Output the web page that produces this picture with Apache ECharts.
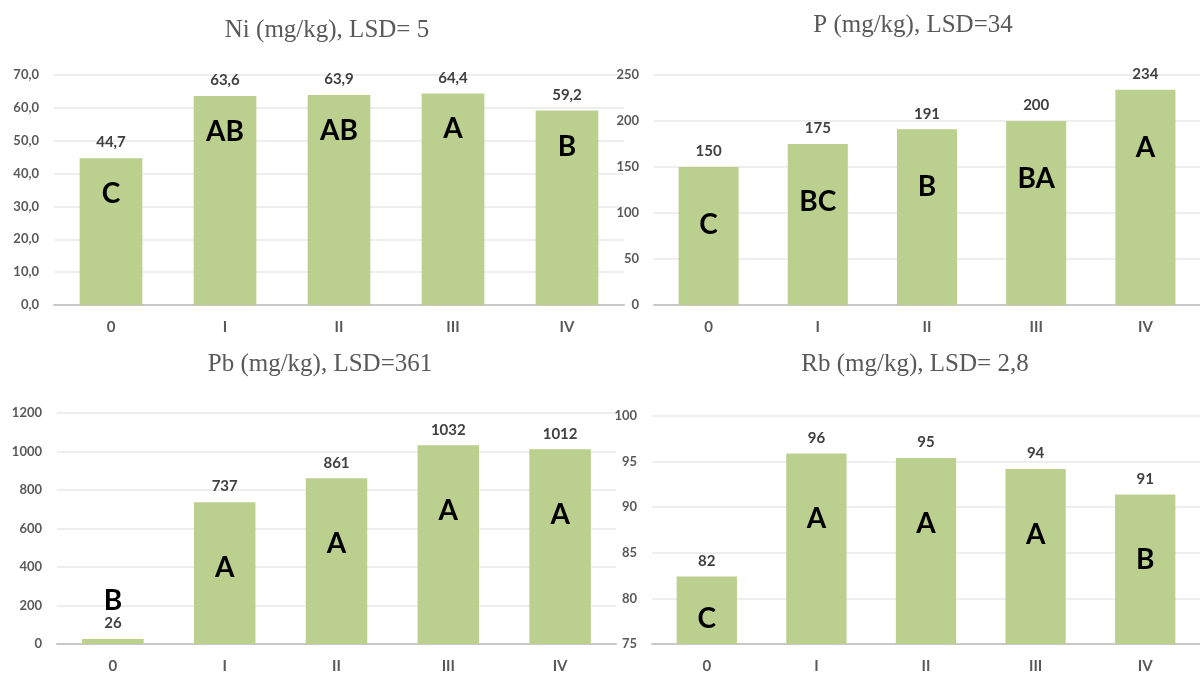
<!DOCTYPE html>
<html>
<head>
<meta charset="utf-8">
<script src="https://cdn.jsdelivr.net/npm/echarts@6/dist/echarts.min.js"></script>
<style>
  html, body { margin: 0; padding: 0; background: #fff; }
  #chart { width: 1200px; height: 674px; }
</style>
</head>
<body>
<div id="chart"></div>
<script>
// categories shared by all four panels
const categories = ['0', 'I', 'II', 'III', 'IV']

// Ni (mg/kg)
const niValues = [44.7, 63.6, 63.9, 64.4, 59.2]
const niLetters = ['C', 'AB', 'AB', 'A', 'B']

// P (mg/kg)
const pValues = [150, 175, 191, 200, 234]
const pLetters = ['C', 'BC', 'B', 'BA', 'A']

// Pb (mg/kg)
const pbValues = [26, 737, 861, 1032, 1012]
const pbLetters = ['B', 'A', 'A', 'A', 'A']

// Rb (mg/kg)
const rbValues = [82.4, 95.9, 95.4, 94.2, 91.4]
const rbLetters = ['C', 'A', 'A', 'A', 'B']

const BAR = '#bbcf8e'
const FONT = 'Lato'

const comma1 = (v) => v.toFixed(1).replace('.', ',')
const whole = (v) => String(Math.round(v))

const panels = [
  {
    title: 'Ni (mg/kg), LSD= 5', values: niValues, letters: niLetters,
    min: 0, max: 70, interval: 10, fmt: comma1,
    grid: { left: 54, right: 576, top: 75, bottom: 369 },
    titleX: 327, titleY: 18, letterDist: 22,
  },
  {
    title: 'P (mg/kg), LSD=34', values: pValues, letters: pLetters,
    min: 0, max: 250, interval: 50, fmt: whole,
    grid: { left: 654, right: -10, top: 75, bottom: 369 },
    titleX: 913, titleY: 13, letterDist: 44,
  },
  {
    title: 'Pb (mg/kg), LSD=361', values: pbValues, letters: pbLetters,
    min: 0, max: 1200, interval: 200, fmt: whole,
    grid: { left: 57, right: 584, top: 413, bottom: 29 },
    titleX: 320, titleY: 352, letterDist: 52,
  },
  {
    title: 'Rb (mg/kg), LSD= 2,8', values: rbValues, letters: rbLetters,
    min: 75, max: 100, interval: 5, fmt: whole,
    grid: { left: 652, right: -8, top: 416, bottom: 29 },
    titleX: 915, titleY: 352, letterDist: 52,
  },
]

const chart = echarts.init(document.getElementById('chart'))

const option = {
  animation: false,
  backgroundColor: '#fff',
  title: panels.map((p) => ({
    text: p.title,
    left: p.titleX,
    top: p.titleY,
    textAlign: 'center',
    padding: 0,
    textStyle: {
      fontFamily: 'Liberation Serif',
      fontWeight: 'normal',
      fontSize: 25,
      color: '#595959',
    },
  })),
  grid: panels.map((p) => ({ ...p.grid, containLabel: false })),
  xAxis: panels.map((p, i) => ({
    type: 'category',
    gridIndex: i,
    data: categories,
    axisTick: { show: false },
    axisLine: { lineStyle: { color: '#c8c8c8', width: 2 } },
    axisLabel: {
      margin: 15,
      fontFamily: FONT,
      fontWeight: 'bold',
      fontSize: 15,
      color: '#595959',
    },
  })),
  yAxis: panels.map((p, i) => ({
    type: 'value',
    gridIndex: i,
    min: p.min,
    max: p.max,
    interval: p.interval,
    axisLine: { show: false },
    axisTick: { show: false },
    splitLine: { lineStyle: { color: '#eeeeee', width: 2 } },
    axisLabel: {
      margin: 15,
      fontFamily: FONT,
      fontWeight: 'bold',
      fontSize: 13,
      color: '#595959',
      formatter: (v) => p.fmt(v),
    },
  })),
  series: [],
}

panels.forEach((p, i) => {
  const g = p.grid
  const plotH = 674 - g.top - g.bottom
  const span = p.max - p.min
  // the bars themselves with value labels on top
  option.series.push({
    type: 'bar',
    xAxisIndex: i,
    yAxisIndex: i,
    data: p.values,
    barWidth: '55%',
    itemStyle: { color: BAR },
    label: {
      show: true,
      position: 'top',
      distance: 8,
      fontFamily: FONT,
      fontWeight: 'bold',
      fontSize: 15,
      color: '#404040',
      formatter: (d) => p.fmt(d.value),
    },
    z: 2,
  })
  // transparent overlay carrying the significance letters
  option.series.push({
    type: 'bar',
    xAxisIndex: i,
    yAxisIndex: i,
    barGap: '-100%',
    barWidth: '55%',
    itemStyle: { color: 'rgba(0,0,0,0)' },
    data: p.values.map((v) => {
      const barPx = (v - p.min) / span * plotH
      if (barPx < 40) {
        return { value: v, label: { position: 'top', distance: 24 } }
      }
      return {
        value: v,
        label: { position: 'insideTop', distance: Math.min(p.letterDist, barPx - 39) },
      }
    }),
    label: {
      show: true,
      fontFamily: FONT,
      fontWeight: 'bold',
      fontSize: 28,
      color: '#000',
      formatter: (d) => p.letters[d.dataIndex],
    },
    z: 3,
  })
})

chart.setOption(option)
</script>
</body>
</html>
